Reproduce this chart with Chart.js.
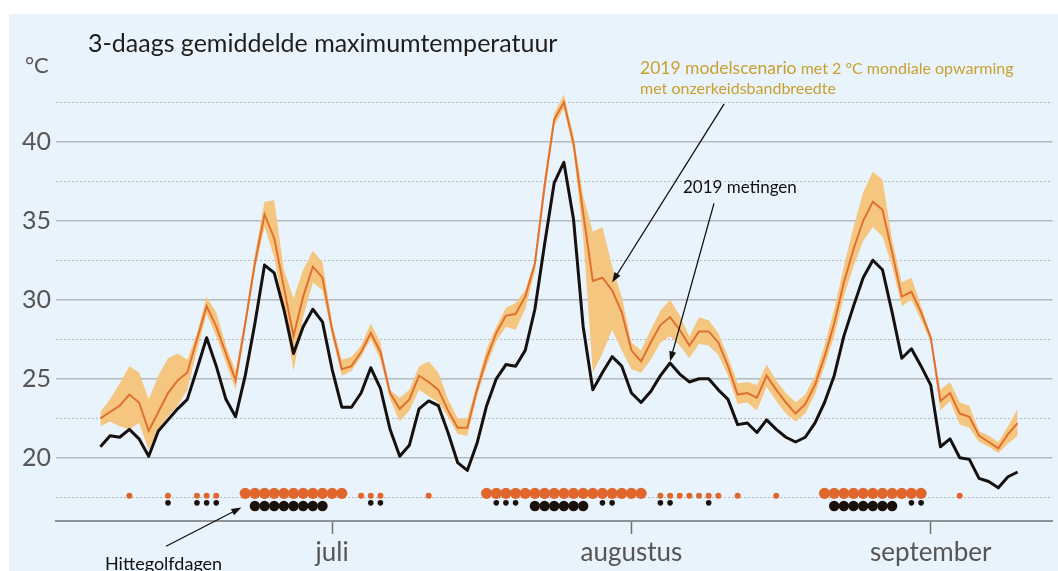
<!DOCTYPE html>
<html>
<head>
<meta charset="utf-8">
<script src="https://cdn.jsdelivr.net/npm/chart.js@4.4.0/dist/chart.umd.min.js"></script>
<style>
html, body { margin: 0; padding: 0; background: #fff; }
#wrap { width: 1058px; height: 571px; position: relative; }
</style>
</head>
<body>
<div id="wrap"><canvas id="grafiek"></canvas></div>
<script>
// dag 0 = 1 juli, reeks begint op 7 juni
const startDag = -24;

const metingen = [
    20.7, 21.4, 21.3, 21.8, 21.2, 20.1, 21.7, 22.4, 23.1, 23.7,
    25.6, 27.6, 25.8, 23.7, 22.6, 25.2, 28.5, 32.2, 31.7, 29.4,
    26.6, 28.3, 29.4, 28.6, 25.6, 23.2, 23.2, 24.1, 25.7, 24.4,
    21.8, 20.1, 20.8, 23.1, 23.6, 23.3, 21.6, 19.7, 19.2, 20.9,
    23.3, 25.0, 25.9, 25.8, 26.8, 29.4, 33.5, 37.4, 38.7, 35.1,
    28.3, 24.3, 25.4, 26.4, 25.8, 24.1, 23.5, 24.2, 25.2, 26.0,
    25.3, 24.8, 25.0, 25.0, 24.3, 23.7, 22.1, 22.2, 21.6, 22.4,
    21.8, 21.3, 21.0, 21.3, 22.2, 23.5, 25.2, 27.7, 29.6, 31.4,
    32.5, 31.9, 29.2, 26.3, 26.9, 25.8, 24.6, 20.7, 21.2, 20.0,
    19.9, 18.7, 18.5, 18.1, 18.8, 19.1
];

const model = [
    22.5, 22.9, 23.3, 24.0, 23.5, 21.7, 22.9, 24.1, 24.9, 25.4,
    27.5, 29.6, 28.3, 26.6, 24.9, 28.5, 32.3, 35.4, 33.9, 30.8,
    27.7, 30.2, 32.1, 31.4, 28.1, 25.6, 25.8, 26.7, 27.9, 26.7,
    24.1, 23.1, 23.7, 25.2, 24.8, 24.3, 23.0, 21.9, 21.9, 24.3,
    26.3, 27.9, 29.0, 29.1, 30.2, 32.3, 37.2, 41.4, 42.5, 39.9,
    35.5, 31.2, 31.4, 30.6, 29.2, 26.8, 26.1, 27.3, 28.4, 28.9,
    28.1, 27.1, 28.0, 28.0, 27.3, 25.8, 24.0, 24.1, 23.8, 25.2,
    24.3, 23.5, 22.8, 23.4, 24.6, 26.4, 28.5, 31.1, 33.2, 35.0,
    36.2, 35.7, 33.0, 30.2, 30.5, 29.2, 27.6, 23.6, 24.1, 22.8,
    22.6, 21.4, 21.0, 20.6, 21.5, 22.2
];

const bandBoven = [
    22.9, 23.7, 24.7, 25.8, 25.4, 23.7, 25.2, 26.3, 26.6, 26.2,
    27.9, 30.2, 29.2, 27.1, 25.5, 28.9, 32.9, 36.2, 36.3, 31.9,
    30.1, 31.9, 33.1, 32.4, 28.5, 26.2, 26.4, 27.1, 28.5, 27.3,
    24.3, 23.8, 24.3, 25.8, 26.1, 25.4, 23.7, 22.5, 22.5, 24.7,
    26.9, 28.3, 29.5, 29.8, 30.6, 32.5, 37.8, 41.8, 43.0, 40.4,
    36.6, 34.3, 34.6, 32.1, 30.2, 27.3, 26.8, 28.1, 29.3, 30.0,
    29.0, 27.7, 28.9, 28.7, 27.9, 26.4, 24.7, 24.8, 24.6, 25.9,
    24.9, 24.1, 23.5, 24.0, 25.2, 27.1, 29.4, 32.1, 34.6, 36.8,
    38.1, 37.6, 33.8, 31.1, 31.4, 29.6, 27.8, 24.3, 24.8, 23.5,
    23.3, 21.7, 21.4, 21.0, 22.0, 23.1
];

const bandOnder = [
    22.0, 22.3, 22.0, 21.8, 22.2, 20.5, 21.8, 22.6, 23.3, 24.3,
    26.8, 29.1, 27.7, 26.0, 24.3, 28.1, 31.9, 34.6, 32.7, 29.4,
    25.5, 28.9, 31.1, 30.6, 27.7, 25.2, 25.5, 26.4, 27.5, 26.2,
    23.7, 22.3, 23.0, 24.3, 23.9, 23.5, 22.6, 21.5, 21.4, 23.9,
    25.8, 27.4, 28.3, 28.1, 29.4, 31.8, 36.6, 41.0, 42.1, 39.4,
    34.0, 25.4, 26.6, 28.1, 26.8, 25.6, 25.4, 26.2, 27.3, 27.7,
    27.1, 26.3, 27.2, 27.1, 26.5, 25.2, 23.4, 23.5, 23.0, 24.5,
    23.6, 22.8, 22.3, 22.8, 24.0, 25.8, 27.7, 30.2, 32.1, 33.7,
    34.6, 34.0, 32.1, 29.6, 30.0, 28.7, 27.3, 23.0, 23.6, 22.1,
    21.9, 21.0, 20.7, 20.3, 20.9, 21.4
];

const maandStart = [0, 31, 62];
const maandNamen = ['juli', 'augustus', 'september'];
const yTicks = [17.5, 20, 22.5, 25, 27.5, 30, 32.5, 35, 37.5, 40, 42.5];

// hittegolfdagen (dagnummers), groot = hittegolf, klein = warme dag
const modelGolf = [-9, -8, -7, -6, -5, -4, -3, -2, -1, 0, 1,
    16, 17, 18, 19, 20, 21, 22, 23, 24, 25, 26, 27, 28, 29, 30, 31, 32,
    51, 52, 53, 54, 55, 56, 57, 58, 59, 60, 61];
const modelDag = [-21, -17, -14, -13, -12, 3, 4, 5, 10, 34, 35, 36, 37, 38, 39, 40, 42, 46, 65];
const metingGolf = [-8, -7, -6, -5, -4, -3, -2, -1, 21, 22, 23, 24, 25, 26, 52, 53, 54, 55, 56, 57, 58];
const metingDag = [-17, -14, -13, -12, 4, 5, 17, 18, 19, 28, 29, 34, 35, 39, 60, 61];

const punten = arr => arr.map((v, i) => ({ x: startDag + i, y: v }));
const stippen = (dagen, y) => dagen.map(d => ({ x: d, y: y }));

const lettertype = 'Lato, "Open Sans", sans-serif';

function pijl(ctx, x1, y1, x2, y2) {
    const hoek = Math.atan2(y2 - y1, x2 - x1);
    ctx.save();
    ctx.strokeStyle = '#111';
    ctx.fillStyle = '#111';
    ctx.lineWidth = 1.3;
    ctx.beginPath();
    ctx.moveTo(x1, y1);
    ctx.lineTo(x2 - 7 * Math.cos(hoek), y2 - 7 * Math.sin(hoek));
    ctx.stroke();
    ctx.beginPath();
    ctx.moveTo(x2, y2);
    ctx.lineTo(x2 - 10 * Math.cos(hoek) + 3.5 * Math.sin(hoek), y2 - 10 * Math.sin(hoek) - 3.5 * Math.cos(hoek));
    ctx.lineTo(x2 - 10 * Math.cos(hoek) - 3.5 * Math.sin(hoek), y2 - 10 * Math.sin(hoek) + 3.5 * Math.cos(hoek));
    ctx.closePath();
    ctx.fill();
    ctx.restore();
}

const achtergrond = {
    id: 'achtergrond',
    beforeDraw(chart) {
        const ctx = chart.ctx;
        ctx.save();
        ctx.fillStyle = '#e9f3fb';
        ctx.fillRect(9, 14, chart.width - 9, chart.height - 14);
        ctx.restore();
    }
};

const teksten = {
    id: 'teksten',
    afterDraw(chart) {
        const ctx = chart.ctx;
        const xs = chart.scales.x, ys = chart.scales.y;
        const px = (d, t) => [xs.getPixelForValue(d), ys.getPixelForValue(t)];
        ctx.save();
        ctx.textBaseline = 'alphabetic';
        ctx.textAlign = 'left';

        ctx.fillStyle = '#1e1e1e';
        ctx.font = '25px ' + lettertype;
        ctx.fillText('3-daags gemiddelde maximumtemperatuur', 88, 52);

        ctx.fillStyle = '#555';
        ctx.font = '22px ' + lettertype;
        ctx.fillText('°C', 25, 73);

        ctx.fillStyle = '#c9a030';
        ctx.font = '17.5px ' + lettertype;
        ctx.fillText('2019 modelscenario', 640, 74);
        const w = ctx.measureText('2019 modelscenario').width;
        ctx.font = '16px ' + lettertype;
        ctx.fillText(' met 2 °C mondiale opwarming', 640 + w, 74);
        ctx.fillText('met onzerkeidsbandbreedte', 640, 94);

        ctx.fillStyle = '#111';
        ctx.font = '17px ' + lettertype;
        ctx.fillText('2019 metingen', 683, 193);
        ctx.font = '18px ' + lettertype;
        ctx.fillText('Hittegolfdagen', 105, 570);

        let a = px(40.6, 42.4), b = px(29.0, 31.1);
        pijl(ctx, a[0], a[1], b[0], b[1]);
        a = px(39.55, 36.1); b = px(35.0, 26.1);
        pijl(ctx, a[0], a[1], b[0], b[1]);
        a = px(-17.2, 14.4); b = px(-9.4, 16.85);
        pijl(ctx, a[0], a[1], b[0], b[1]);
        ctx.restore();
    }
};

new Chart(document.getElementById('grafiek'), {
    type: 'line',
    data: {
        datasets: [
            {
                data: punten(bandBoven),
                borderWidth: 0,
                borderColor: 'rgba(0,0,0,0)',
                backgroundColor: '#f5c680',
                pointRadius: 0,
                fill: '+1',
                tension: 0,
                order: 5
            },
            {
                data: punten(bandOnder),
                borderWidth: 0,
                borderColor: 'rgba(0,0,0,0)',
                pointRadius: 0,
                fill: false,
                order: 5
            },
            {
                data: punten(model),
                borderColor: '#e07030',
                borderWidth: 2,
                pointRadius: 0,
                fill: false,
                tension: 0,
                order: 4
            },
            {
                data: punten(metingen),
                borderColor: '#151110',
                borderWidth: 3,
                borderJoinStyle: 'round',
                pointRadius: 0,
                fill: false,
                tension: 0,
                order: 3
            },
            {
                data: stippen(modelGolf, 17.75),
                showLine: false,
                pointRadius: 5.6,
                pointBorderWidth: 0,
                pointBackgroundColor: '#e0662c',
                order: 1
            },
            {
                data: stippen(modelDag, 17.6),
                showLine: false,
                pointRadius: 3,
                pointBorderWidth: 0,
                pointBackgroundColor: '#e0662c',
                order: 1
            },
            {
                data: stippen(metingGolf, 16.95),
                showLine: false,
                pointRadius: 5.2,
                pointBorderWidth: 0,
                pointBackgroundColor: '#1a100c',
                order: 1
            },
            {
                data: stippen(metingDag, 17.15),
                showLine: false,
                pointRadius: 2.8,
                pointBorderWidth: 0,
                pointBackgroundColor: '#1a100c',
                order: 1
            }
        ]
    },
    options: {
        responsive: true,
        maintainAspectRatio: false,
        animation: false,
        layout: { padding: { top: 47, left: 0, right: 0, bottom: 0 } },
        plugins: {
            legend: { display: false },
            tooltip: { enabled: false }
        },
        scales: {
            x: {
                type: 'linear',
                min: -28.6,
                max: 74.6,
                afterBuildTicks: scale => { scale.ticks = maandStart.map(v => ({ value: v })); },
                afterFit: scale => { scale.height = 50; },
                ticks: {
                    callback: (v, i) => maandNamen[i],
                    autoSkip: false,
                    maxRotation: 0,
                    padding: 3,
                    color: '#555',
                    font: { family: lettertype, size: 26 }
                },
                grid: {
                    display: true,
                    drawOnChartArea: false,
                    drawTicks: true,
                    tickLength: 13,
                    tickColor: '#6d7277',
                    tickWidth: 1.5
                },
                border: { display: true, color: '#8d9297', width: 2 }
            },
            y: {
                type: 'linear',
                min: 16,
                max: 46,
                afterBuildTicks: scale => { scale.ticks = yTicks.map(v => ({ value: v })); },
                afterFit: scale => { scale.width = 56; },
                ticks: {
                    callback: v => (v % 5 === 0 ? String(v) : ''),
                    padding: 5,
                    color: '#555',
                    font: { family: lettertype, size: 25 }
                },
                grid: {
                    drawTicks: false,
                    color: ctx => (ctx.tick && ctx.tick.value % 5 !== 0) ? '#b3b9bf' : '#b4bac0',
                    lineWidth: ctx => (ctx.tick && ctx.tick.value % 5 !== 0) ? 1 : 1.6
                },
                border: {
                    display: false,
                    dash: ctx => (ctx.tick && ctx.tick.value % 5 !== 0) ? [2, 2] : []
                }
            }
        }
    },
    plugins: [achtergrond, teksten]
});
</script>
</body>
</html>
